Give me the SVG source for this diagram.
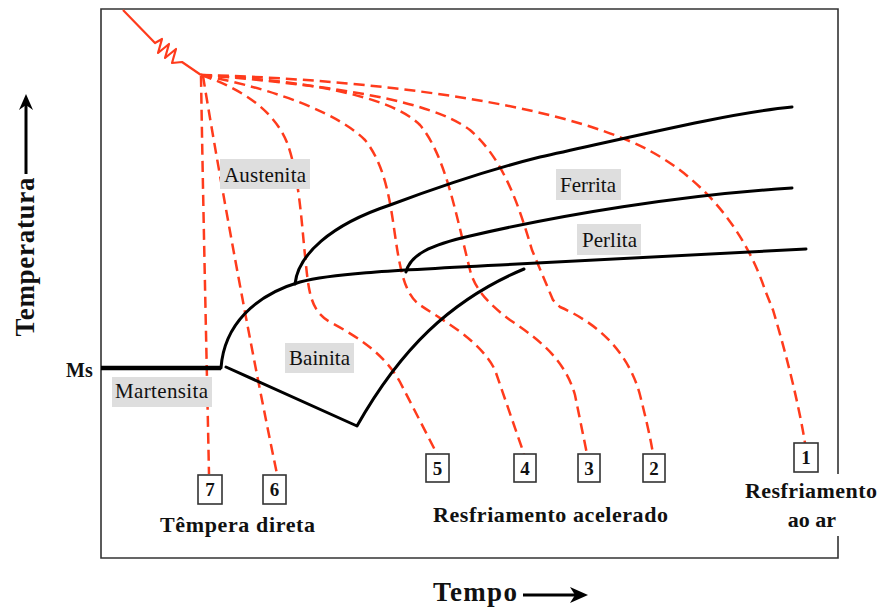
<svg xmlns="http://www.w3.org/2000/svg" width="881" height="610" viewBox="0 0 881 610">
<defs>
<style>
.frame{fill:none;stroke:#333;stroke-width:1.6}
.cool{fill:none;stroke:#ff3b1c;stroke-width:2.5;stroke-dasharray:11,6}
.curve{fill:none;stroke:#000;stroke-width:3;stroke-linecap:round;stroke-linejoin:round}
.lbl{fill:#dedede}
.t{font-family:"Liberation Serif","Times New Roman",serif;fill:#111}
.lt{font-size:21px}
.b{font-weight:bold}
.box{fill:#fff;stroke:#333;stroke-width:1.6}
.num{font-size:19px;font-weight:bold;text-anchor:middle}
</style>
</defs>
<rect width="881" height="610" fill="#fff"/>
<g id="frame">
<path class="frame" d="M838,474 V9 H101 V558 H838 V536"/>
</g>
<g id="connectors">
<path d="M123,10 L155,43 L162,39 L158,53 L169,44 L165,58 L176,49 L172,63 L182,62 L201,75" fill="none" stroke="#ff3b1c" stroke-width="2.2" stroke-linejoin="round"/>
<path id="c1" class="cool" d="M201,75 C330,78 520,95 627,140 C700,170 745,230 765,290 L773,310 C785,350 798,400 805,443"/>
<path id="c2" class="cool" d="M201,75 C330,85 430,100 470,130 C505,160 520,210 532,250 L553,300 L560,307 C595,322 628,350 640,395 C645,415 650,435 653,454"/>
<path id="c3" class="cool" d="M201,75 C300,80 390,95 420,125 C445,155 455,210 470,270 C475,290 490,305 510,320 C540,340 565,360 575,395 L587,454"/>
<path id="c4" class="cool" d="M201,75 C280,90 340,115 365,140 C385,165 390,200 395,235 C400,270 405,295 420,305 C445,322 480,340 495,370 L524,454"/>
<path id="c5" class="cool" d="M201,75 C240,88 275,110 288,145 C300,180 302,230 306,265 C309,295 312,312 330,322 C360,338 385,355 400,382 L437,454"/>
<path id="c6" class="cool" d="M203,76 C215,150 245,320 277,474"/>
<path id="c7" class="cool" d="M201,76 C203,200 206,330 209,474"/>
</g>
<g id="transformation-curves">
<path d="M101,368 H221" stroke="#000" stroke-width="4.5"/>
<path class="curve" d="M221,368 C224,325 255,295 300,282 C330,274 380,271 500,265 L806,249"/>
<path class="curve" d="M226,367 L357,426 C400,350 450,300 524,269"/>
<path class="curve" d="M295,284 C298,255 330,225 390,205 C430,190 480,172 540,157 C640,135 730,113 792,107"/>
<path class="curve" d="M406,272 C410,255 430,245 470,236 C560,215 680,195 792,188"/>
</g>
<g id="austenita"><rect class="lbl" x="220" y="159" width="90" height="30"/><text class="t lt" x="224" y="182" textLength="82">Austenita</text></g>
<g id="ferrita"><rect class="lbl" x="556" y="169" width="65" height="31"/><text class="t lt" x="560" y="192" textLength="56">Ferrita</text></g>
<g id="perlita"><rect class="lbl" x="577" y="224" width="64" height="31"/><text class="t lt" x="582" y="247" textLength="55">Perlita</text></g>
<g id="bainita"><rect class="lbl" x="285" y="343" width="69" height="30"/><text class="t lt" x="289" y="365" textLength="61">Bainita</text></g>
<g id="martensita"><rect class="lbl" x="112" y="377" width="100" height="30"/><text class="t lt" x="115" y="398" textLength="93">Martensita</text></g>
<g id="ms"><text class="t b" x="66" y="377" font-size="20">Ms</text></g>
<g id="box7"><rect class="box" x="198" y="475" width="24" height="29"/><text class="t num" x="210" y="496">7</text></g>
<g id="box6"><rect class="box" x="263" y="475" width="23" height="29"/><text class="t num" x="274.5" y="496">6</text></g>
<g id="box5"><rect class="box" x="426" y="454" width="23" height="28"/><text class="t num" x="437.5" y="475">5</text></g>
<g id="box4"><rect class="box" x="514" y="454" width="22" height="28"/><text class="t num" x="525" y="475">4</text></g>
<g id="box3"><rect class="box" x="578" y="454" width="22" height="28"/><text class="t num" x="589" y="475">3</text></g>
<g id="box2"><rect class="box" x="643" y="454" width="22" height="28"/><text class="t num" x="654" y="475">2</text></g>
<g id="box1"><rect class="box" x="794" y="443" width="24" height="29"/><text class="t num" x="806" y="464">1</text></g>
<g id="tempera"><text class="t b" x="160" y="532" font-size="22" textLength="155">Têmpera direta</text></g>
<g id="acelerado"><text class="t b" x="433" y="522" font-size="22" textLength="235">Resfriamento acelerado</text></g>
<g id="ar"><text class="t b" x="745" y="498" font-size="22" textLength="132">Resfriamento</text><text class="t b" x="812" y="527" font-size="22" text-anchor="middle">ao ar</text></g>
<g id="y-axis"><text class="t b" transform="translate(34,257) rotate(-90)" font-size="27" text-anchor="middle" textLength="159">Temperatura</text>
<path d="M26,174 V102" stroke="#000" stroke-width="3"/><path d="M26,94 L19,110 L26,105 L33,110 Z" fill="#000"/></g>
<g id="x-axis"><text class="t b" x="433" y="601" font-size="27" textLength="84">Tempo</text>
<path d="M523,595 H580" stroke="#000" stroke-width="3"/><path d="M588,595 L570,587 L575,595 L570,603 Z" fill="#000"/></g>
</svg>
